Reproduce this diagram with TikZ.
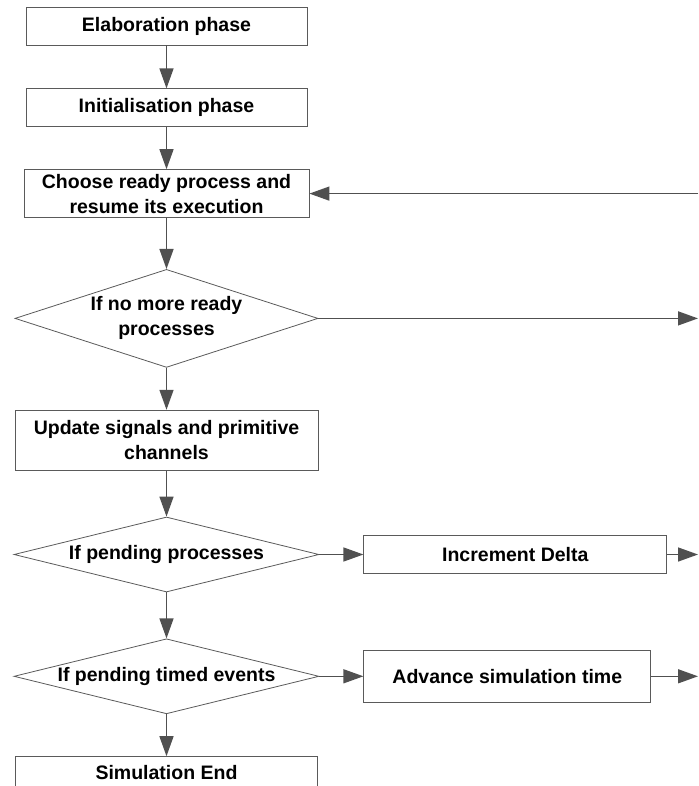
\documentclass[tikz,border=0pt]{standalone}
\usepackage{fontspec}
\setmainfont{Liberation Sans}
\usepackage{tikz}
\usetikzlibrary{shapes.geometric}
\usetikzlibrary{calc,arrows.meta,positioning}
\definecolor{boxgray}{HTML}{5A5A5A}
\definecolor{arrowgray}{HTML}{505050}
\tikzset{
    every node/.style={font=\bfseries\fontsize{19.5}{25}\selectfont},
    phase node/.style={draw=boxgray,line width=0.8pt,align=center,inner sep=0pt},
    test node/.style={diamond,draw=boxgray,line width=0.8pt,align=center,inner sep=0pt,aspect=4},
    flow/.style={->,draw=arrowgray,fill=arrowgray,line width=1.4pt}
}

\begin{document}
\begin{tikzpicture}[
            > = {Triangle[length=20pt,width=14pt]}, % arrow head style
            shorten > = 0pt, % arrow head touches the node
            node distance = 43pt % distance between nodes
        ]

        \useasboundingbox (0,0) rectangle (698pt,-786pt);
        \coordinate (rim) at (698pt,0);

        \node[phase node,minimum width=281pt,minimum height=38pt] (elab) at (166.5pt,-26pt) {Elaboration phase};
        \node[phase node,minimum width=281pt,minimum height=38pt] (init) [below=of elab] {Initialisation phase};
        \node[phase node,minimum width=285pt,minimum height=48pt] (choose) [below=42pt of init] {Choose ready process and\\resume its execution};
        \node[test node,aspect=3.1,minimum width=303pt,minimum height=98pt] (nomore) [below=51pt of choose] {If no more ready\\processes};
        \node[phase node,minimum width=303pt,minimum height=60pt] (update) [below=42pt of nomore] {Update signals and primitive\\channels};
        \node[test node,minimum width=305pt,minimum height=75pt] (pending) [below=46pt of update] {If pending processes};
        \node[test node,minimum width=305pt,minimum height=75pt] (timed) [below=46pt of pending] {If pending timed events};
        \node[phase node,minimum width=302pt,minimum height=46pt,text depth=15pt] (simend) [below=42pt of timed] {Simulation End};
        \node[phase node,minimum width=303pt,minimum height=38pt] (delta) [right=44pt of pending] {Increment Delta};
        \node[phase node,minimum width=287pt,minimum height=52pt] (advance) [right=44pt of timed] {Advance simulation time};

        % loose ends on the right border
        \coordinate (back) at (rim |- choose.east);
        \coordinate (nomoreout) at (rim |- nomore.east);
        \coordinate (deltaout) at (rim |- delta.east);
        \coordinate (advanceout) at (rim |- advance.east);

        \draw[flow] (elab) -- (init);
        \draw[flow] (init) -- (choose);
        \draw[flow] (choose) -- (nomore);
        \draw[flow] (nomore) -- (update);
        \draw[flow] (update) -- (pending);
        \draw[flow] (pending) -- (timed);
        \draw[flow] (timed) -- (simend);
        \draw[flow] (pending) -- (delta);
        \draw[flow] (timed) -- (advance);
        \draw[flow] (back) -- (choose);
        \draw[flow] (nomore) -- (nomoreout);
        \draw[flow] (delta) -- (deltaout);
        \draw[flow] (advance) -- (advanceout);

  \end{tikzpicture}
\end{document}
